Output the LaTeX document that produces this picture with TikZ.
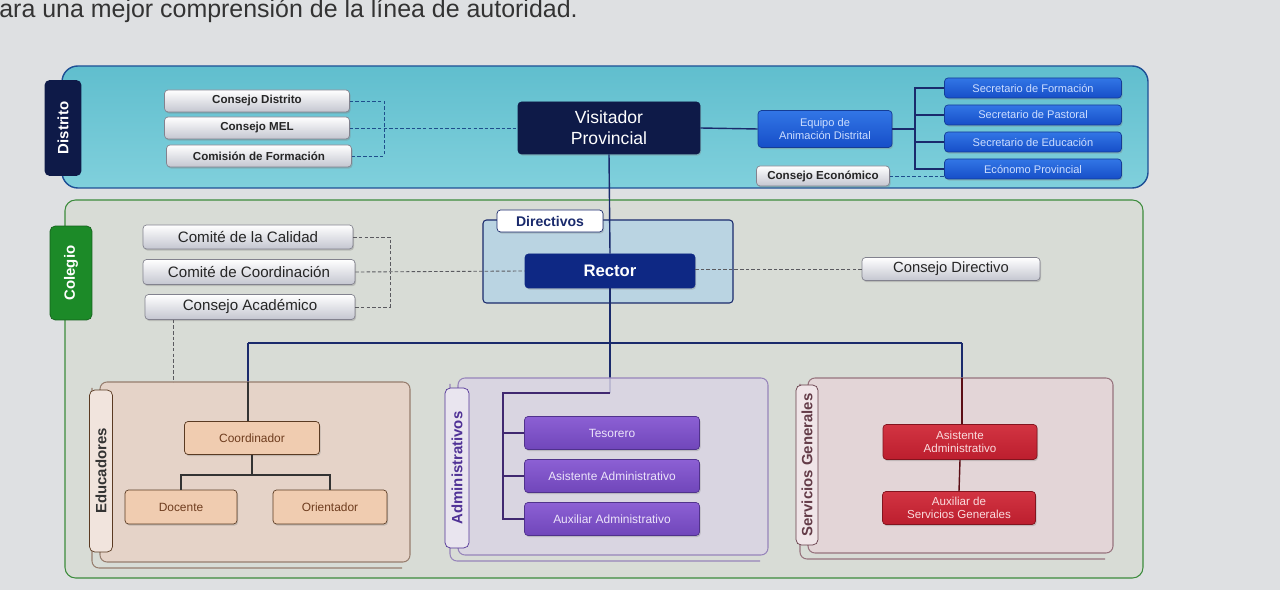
\documentclass[tikz,border=0pt]{standalone}
\usepackage{fontspec}
\setmainfont{Liberation Sans}
\usetikzlibrary{shadows}

\tikzset{
  boxbase/.style={rounded corners=2pt, inner sep=0pt, align=center,
    drop shadow={opacity=0.35, shadow xshift=0.6pt, shadow yshift=-0.9pt}},
  graybox/.style={boxbase, draw=grayedge, top color=white, bottom color=grayfill, text=black!85},
  bluebox/.style={boxbase, draw=blueedge, top color=blueA, bottom color=blueB, text=bluetext,
    font=\fontsize{6.3}{7.4}\selectfont},
  navybox/.style={boxbase, draw=navy, fill=navy, text=white},
  edubox/.style={boxbase, draw=eduedge, fill=edufill, text=edutext, font=\fontsize{6.8}{8}\selectfont},
  admbox/.style={boxbase, draw=admedge, top color=admA, bottom color=admB, text=admtext,
    font=\fontsize{6.8}{8}\selectfont},
  redbox/.style={boxbase, draw=rededge, top color=redA, bottom color=redB, text=redtext,
    font=\fontsize{6.6}{7.4}\selectfont},
  sidetag/.style={rounded corners=3pt, inner sep=0pt, rotate=90, font=\bfseries\fontsize{8.5}{9}\selectfont},
  panel/.style={rounded corners=4pt, line width=0.6pt},
  rel/.style={line width=0.5pt, dash pattern=on 2pt off 1.2pt},
  auth/.style={line width=0.8pt, draw=linecol},
}

\begin{document}
\begin{tikzpicture}[x=0.02cm, y=-0.02cm]
  % Define colors
  \definecolor{bgcol}{RGB}{222,224,226}
  \definecolor{grayedge}{RGB}{130,130,142}
  \definecolor{grayfill}{RGB}{196,198,208}
  \definecolor{navy}{RGB}{14,26,72}
  \definecolor{rectorcol}{RGB}{14,40,132}
  \definecolor{blueedge}{RGB}{20,60,150}
  \definecolor{blueA}{RGB}{50,118,230}
  \definecolor{blueB}{RGB}{22,78,200}
  \definecolor{bluetext}{RGB}{205,222,255}
  \definecolor{distfill}{RGB}{96,190,206}
  \definecolor{distfillB}{RGB}{128,208,220}
  \definecolor{distedge}{RGB}{30,80,150}
  \definecolor{colfill}{RGB}{216,220,214}
  \definecolor{coledge}{RGB}{60,140,60}
  \definecolor{coltag}{RGB}{28,138,40}
  \definecolor{dirfill}{RGB}{186,212,226}
  \definecolor{linecol}{RGB}{26,42,108}
  \definecolor{dashblue}{RGB}{30,78,140}
  \definecolor{dashgray}{RGB}{90,90,95}
  \definecolor{edupanel}{RGB}{232,210,198}
  \definecolor{edupedge}{RGB}{150,125,110}
  \definecolor{eduedge}{RGB}{90,58,34}
  \definecolor{edufill}{RGB}{240,204,176}
  \definecolor{edutext}{RGB}{110,60,30}
  \definecolor{admpanel}{RGB}{218,212,228}
  \definecolor{admedge}{RGB}{80,50,140}
  \definecolor{admA}{RGB}{140,96,212}
  \definecolor{admB}{RGB}{112,70,186}
  \definecolor{admtext}{RGB}{236,228,250}
  \definecolor{admtag}{RGB}{80,50,150}
  \definecolor{redpanel}{RGB}{230,212,216}
  \definecolor{redpedge}{RGB}{150,115,125}
  \definecolor{rededge}{RGB}{130,20,30}
  \definecolor{redA}{RGB}{210,52,66}
  \definecolor{redB}{RGB}{188,30,46}
  \definecolor{redtext}{RGB}{250,220,222}
  \definecolor{redtag}{RGB}{100,60,72}

  \fill[bgcol] (0,0) rectangle (1280,590);
  \useasboundingbox (0,0) rectangle (1280,590);

  % Line of text above the chart
  \node[anchor=base west, font=\fontsize{14.2}{16}\selectfont, text=black!80, inner sep=0pt]
    (intro) at (-1,18) {ara una mejor comprensión de la línea de autoridad.};

  % Panels
  \draw[panel, rounded corners=9pt, draw=distedge, line width=0.8pt, top color=distfill, bottom color=distfillB]
    (62,66) rectangle (1148,188);
  \draw[panel, rounded corners=6pt, draw=coledge, fill=colfill] (65,200) rectangle (1143,578);
  \draw[panel, rounded corners=2pt, draw=linecol, fill=dirfill] (483,220) rectangle (733,303);

  % Side tags
  \node[sidetag, fill=navy, text=white, minimum width=1.92cm, minimum height=0.74cm] (tdist) at (63,128) {Distrito};
  \node[sidetag, fill=coltag, draw=coltag!70!black, text=white, minimum width=1.88cm, minimum height=0.84cm] (tcol) at (71,273) {Colegio};

  % District council boxes
  \node[graybox, font=\bfseries\fontsize{6.6}{7}\selectfont, minimum width=3.7cm, minimum height=0.44cm] (cdist) at (257,101) {Consejo Distrito};
  \node[graybox, font=\bfseries\fontsize{6.6}{7}\selectfont, minimum width=3.7cm, minimum height=0.44cm] (cmel) at (257,128) {Consejo MEL};
  \node[graybox, font=\bfseries\fontsize{6.6}{7}\selectfont, minimum width=3.7cm, minimum height=0.44cm] (cform) at (259,156) {Comisión de Formación};

  \node[navybox, font=\fontsize{10}{12}\selectfont, minimum width=3.64cm, minimum height=1.04cm] (vp) at (609,128) {Visitador\\Provincial};
  \node[bluebox, minimum width=2.68cm, minimum height=0.74cm] (eq) at (825,129) {Equipo de\\Animación Distrital};

  \node[bluebox, minimum width=3.54cm, minimum height=0.40cm] (sform) at (1033,88) {Secretario de Formación};
  \node[bluebox, minimum width=3.54cm, minimum height=0.40cm] (spast) at (1033,115) {Secretario de Pastoral};
  \node[bluebox, minimum width=3.54cm, minimum height=0.40cm] (seduc) at (1033,142) {Secretario de Educación};
  \node[bluebox, minimum width=3.54cm, minimum height=0.40cm] (econ) at (1033,169) {Ecónomo Provincial};
  \node[graybox, font=\bfseries\fontsize{6.6}{7}\selectfont, minimum width=2.66cm, minimum height=0.40cm] (cecon) at (823,176) {Consejo Económico};

  % District links
  \coordinate (dbus) at (384,128);
  \coordinate (sbus) at (915,129);
  \draw[rel, draw=dashblue] (cdist.east) -| (dbus);
  \draw[rel, draw=dashblue] (cform.east) -| (dbus);
  \draw[rel, draw=dashblue] (cmel.east) -- (vp.west);
  \draw[auth] (vp.east) -- (eq.west);
  \draw[auth] (eq.east) -- (sbus);
  \draw[auth] (sbus) |- (sform.west);
  \draw[auth] (sbus) |- (spast.west);
  \draw[auth] (sbus) |- (seduc.west);
  \draw[auth] (sbus) |- (econ.west);
  \draw[rel, draw=dashblue] (cecon.east) -- (cecon.east -| econ.west);

  % School
  \node[graybox, font=\fontsize{8.6}{10}\selectfont, minimum width=4.2cm, minimum height=0.48cm] (ccal) at (248,237) {Comité de la Calidad};
  \node[graybox, font=\fontsize{8.6}{10}\selectfont, minimum width=4.24cm, minimum height=0.50cm] (ccoord) at (249,272) {Comité de Coordinación};
  \node[graybox, font=\fontsize{8.6}{10}\selectfont, minimum width=4.2cm, minimum height=0.50cm] (cacad) at (250,307) {Consejo Académico};
  \node[draw=linecol, fill=white, rounded corners=2pt, inner sep=0pt, text=linecol,
    font=\bfseries\fontsize{8}{9}\selectfont, minimum width=2.12cm, minimum height=0.44cm,
    drop shadow={opacity=0.3, shadow xshift=0.6pt, shadow yshift=-0.9pt}] (dirtag) at (550,221) {Directivos};
  \node[navybox, draw=rectorcol, fill=rectorcol, font=\bfseries\fontsize{9.5}{11}\selectfont,
    minimum width=3.4cm, minimum height=0.68cm] (rector) at (610,271) {Rector};
  \node[graybox, font=\fontsize{8.4}{10}\selectfont, minimum width=3.56cm, minimum height=0.46cm] (cdir) at (951,269) {Consejo Directivo};

  \coordinate (cbus) at (390,272);
  \coordinate (acadfoot) at (173,382);
  \draw[rel, draw=dashgray] (ccal.east) -| (cbus);
  \draw[rel, draw=dashgray] (cacad.east) -| (cbus);
  \draw[rel, draw=dashgray] (ccoord.east) -- (rector.west);
  \draw[rel, draw=dashgray] (cdir.west) -- (cdir.west -| rector.east);
  \draw[rel, draw=dashgray] (acadfoot |- cacad.south) -- (acadfoot);

  % Authority line down to the bus
  \coordinate (busw) at (248,343);
  \coordinate (buse) at (962,343);
  \coordinate (admtop) at (610,393);
  \coordinate (admleft) at (503,393);
  \draw[auth] (vp.south) -- (rector.north);
  \draw[auth] (rector.south) -- (admtop);
  \draw[auth] (busw) -- (buse);
  \draw[auth] (busw) -- (248,400);
  \draw[auth] (buse) -- (962,400);

  % Group panels (drawn over the drops to tint them)
  \draw[panel, draw=edupedge] (92,388) -- (92,568) -- (402,568);
  \draw[panel, draw=edupedge, fill=edupanel, fill opacity=0.85] (100,382) rectangle (410,562);
  \draw[panel, draw=admedge!60] (450,384) -- (450,561) -- (760,561);
  \draw[panel, draw=admedge!60, fill=admpanel, fill opacity=0.85] (458,378) rectangle (768,555);
  \draw[panel, draw=redpedge] (800,384) -- (800,559) -- (1105,559);
  \draw[panel, draw=redpedge, fill=redpanel, fill opacity=0.85] (808,378) rectangle (1113,553);

  \node[sidetag, draw=eduedge, fill=edupanel!60!white, text=black!80, minimum width=3.24cm, minimum height=0.46cm] (tedu) at (101,471) {Educadores};
  \node[sidetag, draw=admtag, fill=admpanel!60!white, text=admtag, minimum width=3.2cm, minimum height=0.48cm] (tadm) at (457,468) {Administrativos};
  \node[sidetag, draw=redtag, fill=redpanel!60!white, text=redtag, minimum width=3.2cm, minimum height=0.44cm] (tserv) at (807,465) {Servicios Generales};

  % Educators
  \node[edubox, minimum width=2.7cm, minimum height=0.66cm] (coord) at (252,438) {Coordinador};
  \node[edubox, minimum width=2.24cm, minimum height=0.68cm] (doc) at (181,507) {Docente};
  \node[edubox, minimum width=2.28cm, minimum height=0.68cm] (ori) at (330,507) {Orientador};
  \coordinate (eduj) at (252,475);
  \draw[line width=0.8pt, draw=black!80] (248,382) -- (coord.north -| 248,0);
  \draw[line width=0.8pt, draw=black!80] (coord.south) -- (eduj);
  \draw[line width=0.8pt, draw=black!80] (doc.north) |- (eduj) -| (ori.north);

  % Administrative staff
  \node[admbox, minimum width=3.5cm, minimum height=0.66cm] (tes) at (612,433) {Tesorero};
  \node[admbox, minimum width=3.5cm, minimum height=0.66cm] (asad) at (612,476) {Asistente Administrativo};
  \node[admbox, minimum width=3.5cm, minimum height=0.66cm] (auxad) at (612,519) {Auxiliar Administrativo};
  \draw[line width=0.8pt, draw=admedge!80!black] (admtop) -- (admleft) |- (auxad.west);
  \draw[line width=0.8pt, draw=admedge!80!black] (admleft |- tes.west) -- (tes.west);
  \draw[line width=0.8pt, draw=admedge!80!black] (admleft |- asad.west) -- (asad.west);

  % General services
  \node[redbox, minimum width=3.08cm, minimum height=0.70cm] (asis) at (960,442) {Asistente\\Administrativo};
  \node[redbox, minimum width=3.06cm, minimum height=0.66cm] (auxs) at (959,508) {Auxiliar de\\Servicios Generales};
  \draw[line width=0.8pt, draw=rededge!70!black] (962,378) -- (asis.north -| 962,0);
  \draw[line width=0.8pt, draw=rededge!70!black] (asis.south) -- (auxs.north);
\end{tikzpicture}
\end{document}
